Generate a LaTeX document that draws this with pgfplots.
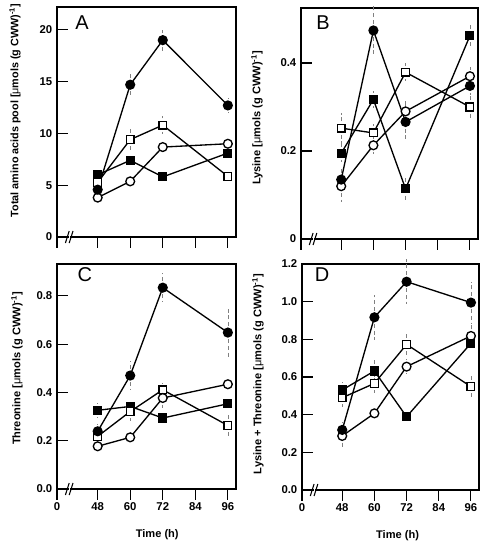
\documentclass[border=0pt]{standalone}
\usepackage{pgfplots}
\pgfplotsset{compat=1.18}
\usepackage{fontspec}
\setmainfont{Liberation Sans}
\newfontfamily\lsb{Liberation Sans}[UprightFont={* Bold}]
\newfontfamily\lsr{Liberation Sans}
\newcommand{\um}{{\lsr μ}mols (g CWW)\textsuperscript{-1}}
\newcommand{\lfont}{\lsb\fontsize{8.3}{9}\selectfont}
\newcommand{\tfont}{\lsb\fontsize{8.5}{10}\selectfont}
\pgfplotsset{
  every tick label/.append style={font=\tfont},
  panel/.style={
    scale only axis,
    anchor=north west,
    xmin=33, xmax=99,
    ymin=0,
    axis line style={line width=0.8pt},
    xtick={33,48,60,72,84,96},
    xtick pos=lower, ytick pos=left,
    tick align=inside,
    major tick length=8pt,
    every tick/.style={black, line width=0.8pt},
    every x tick/.style={black, line width=0.8pt, yshift=-8pt},
    x tick label style={yshift=-7pt},
    clip=false,
  },
  fc/.style={black, line width=1pt, mark=*, mark size=3.3pt, mark options={solid, fill=black},
    error bars/.cd, y dir=both, y explicit, error mark=none,
    error bar style={gray, densely dashed, line width=0.5pt}},
  oc/.style={black, line width=1pt, mark=*, mark size=3.3pt, mark options={solid, fill=white},
    error bars/.cd, y dir=both, y explicit, error mark=none,
    error bar style={gray, densely dashed, line width=0.5pt}},
  fs/.style={black, line width=1pt, mark=square*, mark size=2.9pt, mark options={solid, fill=black},
    error bars/.cd, y dir=both, y explicit, error mark=none,
    error bar style={gray, densely dashed, line width=0.5pt}},
  os/.style={black, line width=1pt, mark=square*, mark size=2.9pt, mark options={solid, fill=white},
    error bars/.cd, y dir=both, y explicit, error mark=none,
    error bar style={gray, densely dashed, line width=0.5pt}},
}
\newcommand{\brk}{%
  \fill[white] ([yshift=-3pt]axis cs:37.4,0) rectangle ([yshift=3pt]axis cs:37.6,0);
  \draw[line width=0.8pt] ([yshift=-4.5pt]axis cs:36.1,0) -- ([yshift=4.5pt]axis cs:37.5,0);
  \draw[line width=0.8pt] ([yshift=-4.5pt]axis cs:37.5,0) -- ([yshift=4.5pt]axis cs:38.9,0);
}
\begin{document}
\begin{tikzpicture}
\path[use as bounding box] (0,0) rectangle (363.75pt,410.25pt);
% Panel A
\begin{axis}[panel, at={(42.75pt,405pt)}, width=134.25pt, height=172.5pt,
  ymax=22.2, ytick={0,5,10,15,20}, yticklabels={0,5,10,15,20},
  xticklabels={},
  ylabel={\lsb\fontsize{8.1}{9}\selectfont Total amino acids pool [\um]},
  every axis y label/.style={at={(axis description cs:-0.235,0.55)}, rotate=90, anchor=center}]
\addplot+[fs] table[y error index=2] {
48 6.0 0.3
60 7.4 0.4
72 5.8 0.3
96 8.1 0.4
};
\addplot+[oc] table[y error index=2] {
48 3.8 0.3
60 5.37 0.3
72 8.68 0.4
96 9.0 0.4
};
\addplot+[os] table[y error index=2] {
48 5.27 0.3
60 9.4 1.1
72 10.8 0.9
96 5.85 0.3
};
\addplot+[fc] table[y error index=2] {
48 4.57 0.3
60 14.7 1.2
72 19.0 1.0
96 12.7 0.7
};
\node[font=\lsr\fontsize{15}{15}\selectfont] at (rel axis cs:0.14,0.93) {A};
\brk
\end{axis}
% Panel B
\begin{axis}[panel, at={(225.75pt,404.25pt)}, width=132.75pt, height=173.25pt,
  ymax=0.525, ytick={0,0.2,0.4}, yticklabels={0,0.2,0.4},
  xticklabels={},
  ylabel={\lfont Lysine [\um]},
  every axis y label/.style={at={(axis description cs:-0.249,0.524)}, rotate=90, anchor=center}]
\addplot+[os] table[y error index=2] {
48 0.252 0.035
60 0.241 0.02
72 0.379 0.02
96 0.30 0.03
};
\addplot+[oc] table[y error index=2] {
48 0.12 0.035
60 0.213 0.02
72 0.29 0.03
96 0.37 0.02
};
\addplot+[fs] table[y error index=2] {
48 0.195 0.02
60 0.317 0.02
72 0.114 0.025
96 0.462 0.03
};
\addplot+[fc] table[y error index=2] {
48 0.135 0.03
60 0.474 0.06
72 0.266 0.045
96 0.348 0.02
};
\node[font=\lsr\fontsize{15}{15}\selectfont] at (rel axis cs:0.124,0.935) {B};
\brk
\end{axis}
% Panel C
\begin{axis}[panel, at={(42.75pt,212.25pt)}, width=134.25pt, height=168.75pt,
  ymax=0.932, ytick={0,0.2,0.4,0.6,0.8}, yticklabels={0.0,0.2,0.4,0.6,0.8},
  xticklabels={0,48,60,72,84,96},
  xlabel={\lfont Time (h)},
  every axis x label/.style={at={(axis description cs:0.56,-0.204)}, anchor=center},
  ylabel={\lfont Threonine [\um]},
  every axis y label/.style={at={(axis description cs:-0.223,0.536)}, rotate=90, anchor=center}]
\addplot+[fs] table[y error index=2] {
48 0.326 0.03
60 0.342 0.02
72 0.294 0.02
96 0.353 0.02
};
\addplot+[os] table[y error index=2] {
48 0.218 0.02
60 0.321 0.04
72 0.411 0.03
96 0.263 0.05
};
\addplot+[oc] table[y error index=2] {
48 0.177 0.02
60 0.214 0.02
72 0.377 0.04
96 0.434 0.02
};
\addplot+[fc] table[y error index=2] {
48 0.239 0.03
60 0.47 0.06
72 0.834 0.06
96 0.648 0.10
};
\node[font=\lsr\fontsize{15}{15}\selectfont] at (rel axis cs:0.156,0.951) {C};
\brk
\end{axis}
% Panel D
\begin{axis}[panel, at={(226.5pt,212.25pt)}, width=132.75pt, height=169.5pt,
  ymax=1.2, ytick={0,0.2,0.4,0.6,0.8,1.0,1.2}, yticklabels={0.0,0.2,0.4,0.6,0.8,1.0,1.2},
  xticklabels={0,48,60,72,84,96},
  xlabel={\lfont Time (h)},
  every axis x label/.style={at={(axis description cs:0.54,-0.204)}, anchor=center},
  ylabel={\lfont Lysine + Threonine [\um]},
  every axis y label/.style={at={(axis description cs:-0.249,0.513)}, rotate=90, anchor=center}]
\addplot+[os] table[y error index=2] {
48 0.49 0.05
60 0.566 0.05
72 0.773 0.06
96 0.549 0.07
};
\addplot+[oc] table[y error index=2] {
48 0.287 0.06
60 0.407 0.03
72 0.655 0.04
96 0.818 0.07
};
\addplot+[fs] table[y error index=2] {
48 0.531 0.04
60 0.632 0.06
72 0.389 0.02
96 0.779 0.03
};
\addplot+[fc] table[y error index=2] {
48 0.319 0.04
60 0.917 0.12
72 1.106 0.12
96 0.995 0.11
};
\node[font=\lsr\fontsize{15}{15}\selectfont] at (rel axis cs:0.113,0.951) {D};
\brk
\end{axis}
\end{tikzpicture}
\end{document}
